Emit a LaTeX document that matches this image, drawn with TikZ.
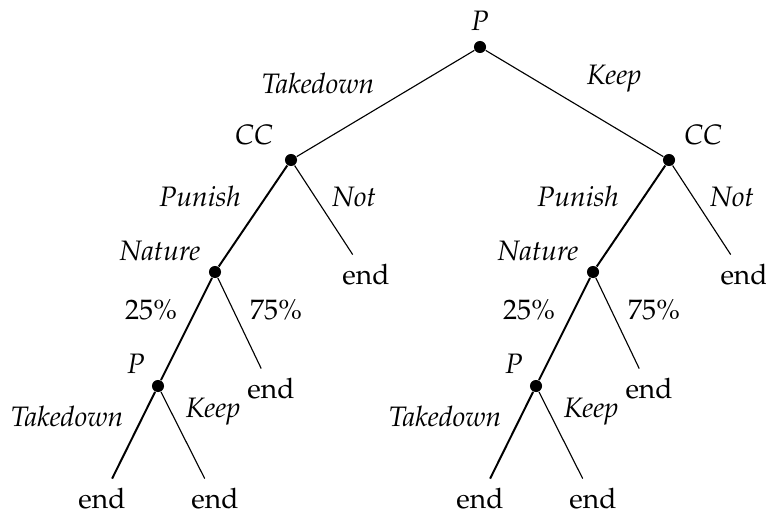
\documentclass[tikz,border=0pt]{standalone}
\usepackage[T1]{fontenc}
\usepackage{mathpazo}
\begin{document}
\begin{tikzpicture}[x=0.0125cm,y=-0.0125cm,line width=0.4pt,
  decision/.style={circle,fill,inner sep=0pt,minimum size=4.3pt},
  play/.style={line width=0.7pt}]
\useasboundingbox (0,0) rectangle (766,513);
% nodes of the tree
\node[decision] (root) at (480,47) {};
\node[decision] (ccL) at (291,160) {};
\node[decision] (ccR) at (669,160) {};
\node[decision] (natL) at (215,272) {};
\node[decision] (natR) at (593,272) {};
\node[decision] (pL) at (158,386) {};
\node[decision] (pR) at (536,386) {};
\node (notL) at (366,275) {end};
\node (notR) at (744,275) {end};
\node (sevL) at (271,389) {end};
\node (sevR) at (649,389) {end};
\node (tdL) at (102,499) {end};
\node (kpL) at (215,499) {end};
\node (tdR) at (480,499) {end};
\node (kpR) at (593,499) {end};
% branches
\draw (root) -- (ccL);
\draw (root) -- (ccR);
\draw[play] (ccL) -- (natL);
\draw (ccL) -- (notL);
\draw[play] (natL) -- (pL);
\draw (natL) -- (sevL);
\draw[play] (pL) -- (tdL);
\draw (pL) -- (kpL);
\draw[play] (ccR) -- (natR);
\draw (ccR) -- (notR);
\draw[play] (natR) -- (pR);
\draw (natR) -- (sevR);
\draw[play] (pR) -- (tdR);
\draw (pR) -- (kpR);
% labels
\node at (480,21) {\textit{P}};
\node at (318,83) {\textit{Takedown}};
\node at (614,79) {\textit{Keep}};
\node at (254,135) {\textit{CC}};
\node at (703,135) {\textit{CC}};
\node at (200,196) {\textit{Punish}};
\node at (354,197) {\textit{Not}};
\node at (578,196) {\textit{Punish}};
\node at (732,197) {\textit{Not}};
\node at (160,251) {\textit{Nature}};
\node at (538,251) {\textit{Nature}};
\node at (151,310) {25\%};
\node at (276,310) {75\%};
\node at (529,310) {25\%};
\node at (654,310) {75\%};
\node at (136,364) {\textit{P}};
\node at (514,364) {\textit{P}};
\node at (67,416) {\textit{Takedown}};
\node at (213,412) {\textit{Keep}};
\node at (445,416) {\textit{Takedown}};
\node at (591,412) {\textit{Keep}};
\end{tikzpicture}
\end{document}
